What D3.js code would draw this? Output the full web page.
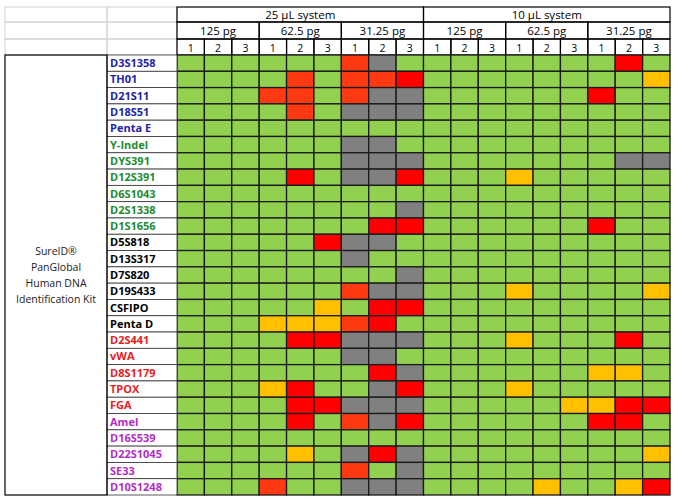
<!DOCTYPE html>
<html>
<head>
<meta charset="utf-8">
<script src="https://cdn.jsdelivr.net/npm/d3@7"></script>
<style>
body{margin:0;background:#fff;}
text{font-family:"Open Sans","Liberation Sans",sans-serif;}
</style>
</head>
<body>
<div id="chart"></div>
<script>
// data
let systems = ["25 \u00b5L system", "10 \u00b5L system"];
let amounts = ["125 pg", "62.5 pg", "31.25 pg"];
let reps = ["1", "2", "3"];
let loci = ["D3S1358","TH01","D21S11","D18S51","Penta E","Y-Indel","DYS391","D12S391","D6S1043","D2S1338","D1S1656",
  "D5S818","D13S317","D7S820","D19S433","CSFIPO","Penta D","D2S441","vWA","D8S1179","TPOX","FGA",
  "Amel","D16S539","D22S1045","SE33","D10S1248"];
let dyeGroup = ["b","b","b","b","b","g","g","g","g","g","g","k","k","k","k","k","k","r","r","r","r","r","p","p","p","p","p"];
// G ok, O orange-red, R red, Y amber, X gray
let results = [
  "GGGGGGOXGGGGGGGGRG",
  "GGGGOGOORGGGGGGGGY",
  "GGGOOGOXXGGGGGGRGG",
  "GGGGOGXXXGGGGGGGGG",
  "GGGGGGGGGGGGGGGGGG",
  "GGGGGGXXGGGGGGGGGG",
  "GGGGGGXXXGGGGGGGXX",
  "GGGGRGXXRGGGYGGGGG",
  "GGGGGGGGGGGGGGGGGG",
  "GGGGGGGGXGGGGGGGGG",
  "GGGGGGGRRGGGGGGRGG",
  "GGGGGRXXGGGGGGGGGG",
  "GGGGGGXGGGGGGGGGGG",
  "GGGGGGGGXGGGGGGGGG",
  "GGGGGGOXXGGGYGGGGY",
  "GGGGGYGRRGGGGGGGGG",
  "GGGYYYORGGGGGGGGGG",
  "GGGGRRXXXGGGYGGGRG",
  "GGGGGGXXGGGGGGGGGG",
  "GGGGGGGRXGGGGGGYYG",
  "GGGYRGGXRGGGYGGGGG",
  "GGGGRRXXXGGGGGYYRR",
  "GGGGRGOXRGGGGGGRRG",
  "GGGGGGGGGGGGGGGGGG",
  "GGGGYGXRXGGGGGGGGY",
  "GGGGGGOGXGGGGGGGGG",
  "GGGOGGXXXGGGGYGGYR"
];
let kitLines = ["SureID\u00ae", "PanGlobal", "Human DNA", "Identification Kit"];

let w = 675;
let h = 499;
let svg = d3.select("#chart").append("svg")
  .attr("width", w)
  .attr("height", h);

let cellColor = {G:"#92d050", O:"#ff3a12", R:"#ff0000", Y:"#ffc000", X:"#808080"};
let labelColor = {b:"#2222aa", g:"#1e8c2e", k:"#000000", r:"#e8201c", p:"#b42bc8"};

let cols = d3.range(18);
let x = d3.scaleBand().domain(cols).range([177, 670]);
let y = d3.scaleBand().domain(loci).range([55, 495]);
let hy = [7, 22, 39, 55];

// light grey gridlines of the empty header cells
let light = "#d4d4d4";
[5, 107].forEach(function(x0, i){
  let x1 = i == 0 ? 107 : 177;
  for (let r = 0; r < 3; r++) {
    svg.append("rect").attr("x", x0).attr("y", hy[r]).attr("width", x1 - x0).attr("height", hy[r+1]-hy[r])
      .attr("fill", "none").attr("stroke", light).attr("stroke-width", 1);
  }
});

// header cells
let hdr = svg.append("g");
systems.forEach(function(s, si){
  let c0 = si * 9;
  hdr.append("rect").attr("x", x(c0)).attr("y", hy[0]).attr("width", x.bandwidth()*9).attr("height", hy[1]-hy[0])
    .attr("fill", "none").attr("stroke", "#000").attr("stroke-width", 1.2);
  hdr.append("text").attr("x", x(c0) + x.bandwidth()*4.5).attr("y", hy[1]-3.5)
    .attr("text-anchor", "middle").attr("font-size", 11.5).text(s);
  amounts.forEach(function(a, ai){
    let c1 = c0 + ai * 3;
    hdr.append("rect").attr("x", x(c1)).attr("y", hy[1]).attr("width", x.bandwidth()*3).attr("height", hy[2]-hy[1])
      .attr("fill", "none").attr("stroke", "#000").attr("stroke-width", 1.2);
    hdr.append("text").attr("x", x(c1) + x.bandwidth()*1.5).attr("y", hy[2]-4)
      .attr("text-anchor", "middle").attr("font-size", 11.5).text(a);
    reps.forEach(function(r, ri){
      let c2 = c1 + ri;
      hdr.append("rect").attr("x", x(c2)).attr("y", hy[2]).attr("width", x.bandwidth()).attr("height", hy[3]-hy[2])
        .attr("fill", "none").attr("stroke", "#000").attr("stroke-width", 1.2);
      hdr.append("text").attr("x", x(c2) + x.bandwidth()/2).attr("y", hy[3]-3.5)
        .attr("text-anchor", "middle").attr("font-size", 10.5).text(r);
    });
  });
});

// result cells
let cells = [];
results.forEach(function(row, ri){
  row.split("").forEach(function(v, ci){
    cells.push({locus: loci[ri], col: ci, v: v});
  });
});
svg.append("g").selectAll("rect").data(cells).enter().append("rect")
  .attr("x", d => x(d.col))
  .attr("y", d => y(d.locus))
  .attr("width", x.bandwidth())
  .attr("height", y.bandwidth())
  .attr("fill", d => cellColor[d.v])
  .attr("stroke", "#1a1a1a")
  .attr("stroke-width", 1.3);

// locus labels
let lab = svg.append("g");
lab.selectAll("rect").data(loci).enter().append("rect")
  .attr("x", 107).attr("y", d => y(d)).attr("width", 70).attr("height", y.bandwidth())
  .attr("fill", "#fff").attr("stroke", "#333").attr("stroke-width", 0.8);
lab.selectAll("text").data(loci).enter().append("text")
  .attr("x", 110).attr("y", d => y(d) + y.bandwidth()/2 + 4)
  .attr("font-size", 11).attr("font-weight", "bold")
  .attr("fill", (d, i) => labelColor[dyeGroup[i]])
  .text(d => d);

// kit box
svg.append("rect").attr("x", 5).attr("y", 55).attr("width", 102).attr("height", 440)
  .attr("fill", "none").attr("stroke", "#000").attr("stroke-width", 1.2);
svg.append("g").selectAll("text").data(kitLines).enter().append("text")
  .attr("x", 56).attr("y", (d, i) => 255 + i * 16)
  .attr("text-anchor", "middle").attr("font-size", 10.5).attr("fill", "#222")
  .text(d => d);
</script>
</body>
</html>
